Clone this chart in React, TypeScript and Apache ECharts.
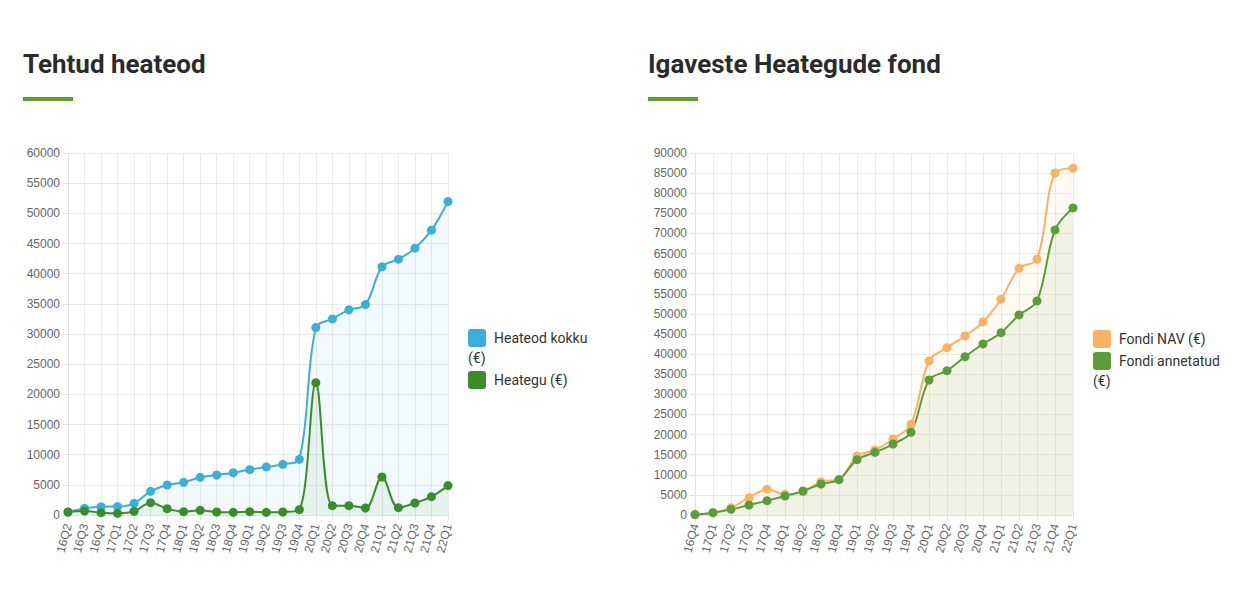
import React, { useEffect, useRef } from "react";
import * as echarts from "echarts";

const leftCategories = [
  "16Q2", "16Q3", "16Q4", "17Q1", "17Q2", "17Q3", "17Q4", "18Q1", "18Q2", "18Q3", "18Q4",
  "19Q1", "19Q2", "19Q3", "19Q4", "20Q1", "20Q2", "20Q3", "20Q4", "21Q1", "21Q2", "21Q3", "21Q4", "22Q1",
];
const heateodKokku = [
  500, 1100, 1380, 1400, 1940, 3930, 4970, 5420, 6250, 6630, 7020,
  7520, 7960, 8400, 9230, 31060, 32500, 34000, 34870, 41130, 42400, 44230, 47210, 51960,
];
const heategu = [
  500, 660, 390, 280, 610, 2050, 1050, 550, 770, 500, 450,
  550, 450, 500, 880, 21940, 1550, 1550, 1160, 6300, 1220, 1990, 3040, 4870,
];

const rightCategories = [
  "16Q4", "17Q1", "17Q2", "17Q3", "17Q4", "18Q1", "18Q2", "18Q3", "18Q4",
  "19Q1", "19Q2", "19Q3", "19Q4", "20Q1", "20Q2", "20Q3", "20Q4", "21Q1", "21Q2", "21Q3", "21Q4", "22Q1",
];
const fondiNav = [
  100, 580, 1820, 4300, 6380, 5140, 5800, 8290, 8870,
  14670, 16160, 18900, 22550, 38290, 41600, 44500, 48000, 53630, 61340, 63580, 85030, 86200,
];
const fondiAnnetatud = [
  100, 580, 1400, 2490, 3560, 4720, 5970, 7710, 8790,
  13760, 15590, 17650, 20560, 33560, 35880, 39370, 42520, 45330, 49730, 53210, 70870, 76340,
];

const leftTitle = "Tehtud heateod";
const rightTitle = "Igaveste Heategude fond";

const BLUE = "#3ab0d8";
const DKGREEN = "#3a8e2a";
const ORANGE = "#fcb263";
const GREEN = "#5a9e3c";
const ACCENT = "#5a9f2a";

const axisFont = "Liberation Sans, Arial, sans-serif";
const uiFont = "Roboto, sans-serif";

export default function App() {
  const ref = useRef<HTMLDivElement>(null);
  useEffect(() => {
    if (!ref.current) return;
    const chart = echarts.init(ref.current, undefined, { renderer: "svg" });
    const gridLineColor = "#ebebeb";
    const xAxisBase = (cats: string[], gridIndex: number) => ({
      type: "category",
      gridIndex,
      data: cats,
      boundaryGap: false,
      axisLine: { show: true, lineStyle: { color: "#dedede" } },
      axisTick: { show: true, length: 5, lineStyle: { color: "#e3e3e3" } },
      splitLine: { show: true, lineStyle: { color: gridLineColor } },
      axisLabel: {
        interval: 0,
        rotate: 75,
        fontSize: 12,
        color: "#666",
        fontFamily: axisFont,
        margin: 9,
      },
    });
    const yAxisBase = (max: number, gridIndex: number) => ({
      type: "value",
      gridIndex,
      min: 0,
      max,
      interval: 5000,
      axisLine: { show: true, lineStyle: { color: "#e3e3e3" } },
      axisTick: { show: true, length: 5, lineStyle: { color: "#e3e3e3" } },
      splitLine: { show: true, lineStyle: { color: gridLineColor } },
      axisLabel: {
        fontSize: 12,
        color: "#666",
        fontFamily: axisFont,
        margin: 8,
        formatter: (v: number) => String(v),
      },
    });
    const lineSeries = (name: string, data: number[], color: string, area: string, idx: number) => ({
      type: "line",
      name,
      data,
      xAxisIndex: idx,
      yAxisIndex: idx,
      smooth: 0.35,
      symbol: "circle",
      symbolSize: 9,
      itemStyle: { color },
      lineStyle: { color, width: 2 },
      areaStyle: { color: area },
    });
    const legendItem = (x: number, y: number, color: string, lines: string[]) => {
      const els: any[] = [
        {
          type: "rect",
          shape: { x, y: y - 9, width: 18, height: 18, r: 3 },
          style: { fill: color },
        },
        {
          type: "text",
          x: x + 26,
          y,
          style: { text: lines[0], font: `14px ${uiFont}`, fill: "#333", verticalAlign: "middle" },
        },
      ];
      if (lines[1]) {
        els.push({
          type: "text",
          x,
          y: y + 20,
          style: { text: lines[1], font: `14px ${uiFont}`, fill: "#333", verticalAlign: "middle" },
        });
      }
      return els;
    };
    chart.setOption({
      animation: false,
      grid: [
        { left: 68, right: 1237 - 448, top: 153, bottom: 614 - 515 },
        { left: 695, right: 1237 - 1073, top: 153, bottom: 614 - 515 },
      ],
      xAxis: [xAxisBase(leftCategories, 0), xAxisBase(rightCategories, 1)],
      yAxis: [yAxisBase(60000, 0), yAxisBase(90000, 1)],
      series: [
        lineSeries("Heateod kokku (€)", heateodKokku, BLUE, "rgba(58,176,216,0.1)", 0),
        lineSeries("Heategu (€)", heategu, DKGREEN, "rgba(58,142,42,0.1)", 0),
        lineSeries("Fondi NAV (€)", fondiNav, ORANGE, "rgba(252,178,99,0.1)", 1),
        lineSeries("Fondi annetatud (€)", fondiAnnetatud, GREEN, "rgba(90,158,60,0.12)", 1),
      ],
      graphic: [
        {
          type: "text",
          x: 23,
          y: 64,
          style: { text: leftTitle, font: `bold 26px ${uiFont}`, fill: "#2b2b2b", verticalAlign: "middle" },
        },
        { type: "rect", shape: { x: 23, y: 97, width: 50, height: 4 }, style: { fill: ACCENT } },
        {
          type: "text",
          x: 648,
          y: 64,
          style: { text: rightTitle, font: `bold 26px ${uiFont}`, fill: "#2b2b2b", verticalAlign: "middle" },
        },
        { type: "rect", shape: { x: 648, y: 97, width: 50, height: 4 }, style: { fill: ACCENT } },
        ...legendItem(468, 338, BLUE, ["Heateod kokku", "(€)"]),
        ...legendItem(468, 380, DKGREEN, ["Heategu (€)"]),
        ...legendItem(1093, 339, ORANGE, ["Fondi NAV (€)"]),
        ...legendItem(1093, 361, GREEN, ["Fondi annetatud", "(€)"]),
      ],
    });
    return () => chart.dispose();
  }, []);
  return (
    <div
      ref={ref}
      style={{ position: "absolute", left: 0, top: 0, width: 1237, height: 614, background: "#fff" }}
    />
  );
}
